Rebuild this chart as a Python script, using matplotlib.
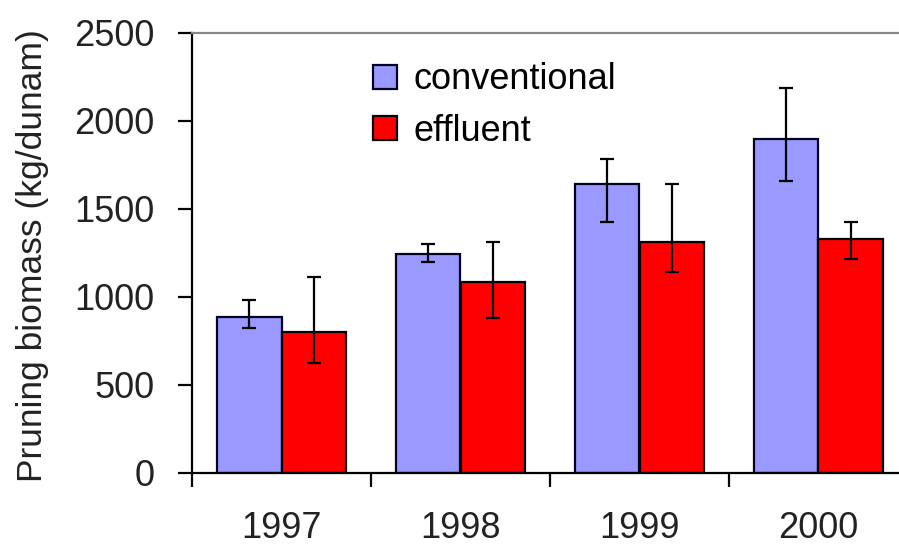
import matplotlib
matplotlib.use("Agg")
import matplotlib.pyplot as plt
import numpy as np

plt.rcParams['font.family'] = ['Liberation Sans', 'DejaVu Sans']

years = ["1997", "1998", "1999", "2000"]
conventional = [885, 1242, 1642, 1900]
conv_err_low = [59, 43, 214, 241]
conv_err_high = [100, 57, 142, 289]
effluent = [799, 1085, 1314, 1328]
eff_err_low = [176, 203, 174, 114]
eff_err_high = [315, 227, 328, 100]
yticks = [0, 500, 1000, 1500, 2000, 2500]

W, H = 899, 547
fig = plt.figure(figsize=(W / 100, H / 100), dpi=100)
ax = fig.add_axes([192 / W, 1 - 473 / H, (908 - 192) / W, (473 - 33) / H])

x = np.arange(len(years))
bw = 0.3625
ax.bar(x - bw / 2, conventional, bw, color='#9999FF', edgecolor='#000022',
       linewidth=1.6, label='conventional', zorder=2)
ax.bar(x + bw / 2, effluent, bw, color='#FF0000', edgecolor='#000000',
       linewidth=1.6, label='effluent', zorder=2)
ax.errorbar(x - bw / 2, conventional, yerr=[conv_err_low, conv_err_high], fmt='none',
            ecolor='black', elinewidth=1.6, capsize=5, capthick=1.6, zorder=3)
ax.errorbar(x + bw / 2, effluent, yerr=[eff_err_low, eff_err_high], fmt='none',
            ecolor='black', elinewidth=1.6, capsize=5, capthick=1.6, zorder=3)

ax.set_xlim(-0.5, len(years) - 0.5)
ax.set_ylim(0, 2500)
ax.set_yticks(yticks)
ax.set_yticklabels([str(v) for v in yticks], fontsize=26, color='#222222')
ax.set_xticks(x)
ax.set_xticklabels(years, fontsize=26, color='#222222')
ax.set_xticks(np.arange(len(years) + 1) - 0.5, minor=True)
ax.tick_params(axis='x', which='major', length=0, pad=27)
ax.tick_params(axis='x', which='minor', length=10, width=1.6, direction='out')
ax.tick_params(axis='y', length=10, width=1.6, direction='out', pad=17)

for s in ['left', 'bottom']:
    ax.spines[s].set_linewidth(1.6)
    ax.spines[s].set_color('black')
ax.spines['top'].set_color('#888888')
ax.spines['top'].set_linewidth(1.6)
ax.spines['right'].set_visible(False)

ax.set_ylabel('Pruning biomass (kg/dunam)', fontsize=25.5, color='#222222')
ax.yaxis.set_label_coords(-(192 - 49) / (908 - 192), 0.495)

leg = ax.legend(loc='upper left', bbox_to_anchor=((359 - 192) / (908 - 192), 1 - (48 - 33) / 440),
                frameon=False, fontsize=26, handlelength=0.65, handleheight=0.65,
                handletextpad=0.45, labelspacing=0.45, borderaxespad=0)

fig.savefig('out.png', dpi=100, facecolor='white')
